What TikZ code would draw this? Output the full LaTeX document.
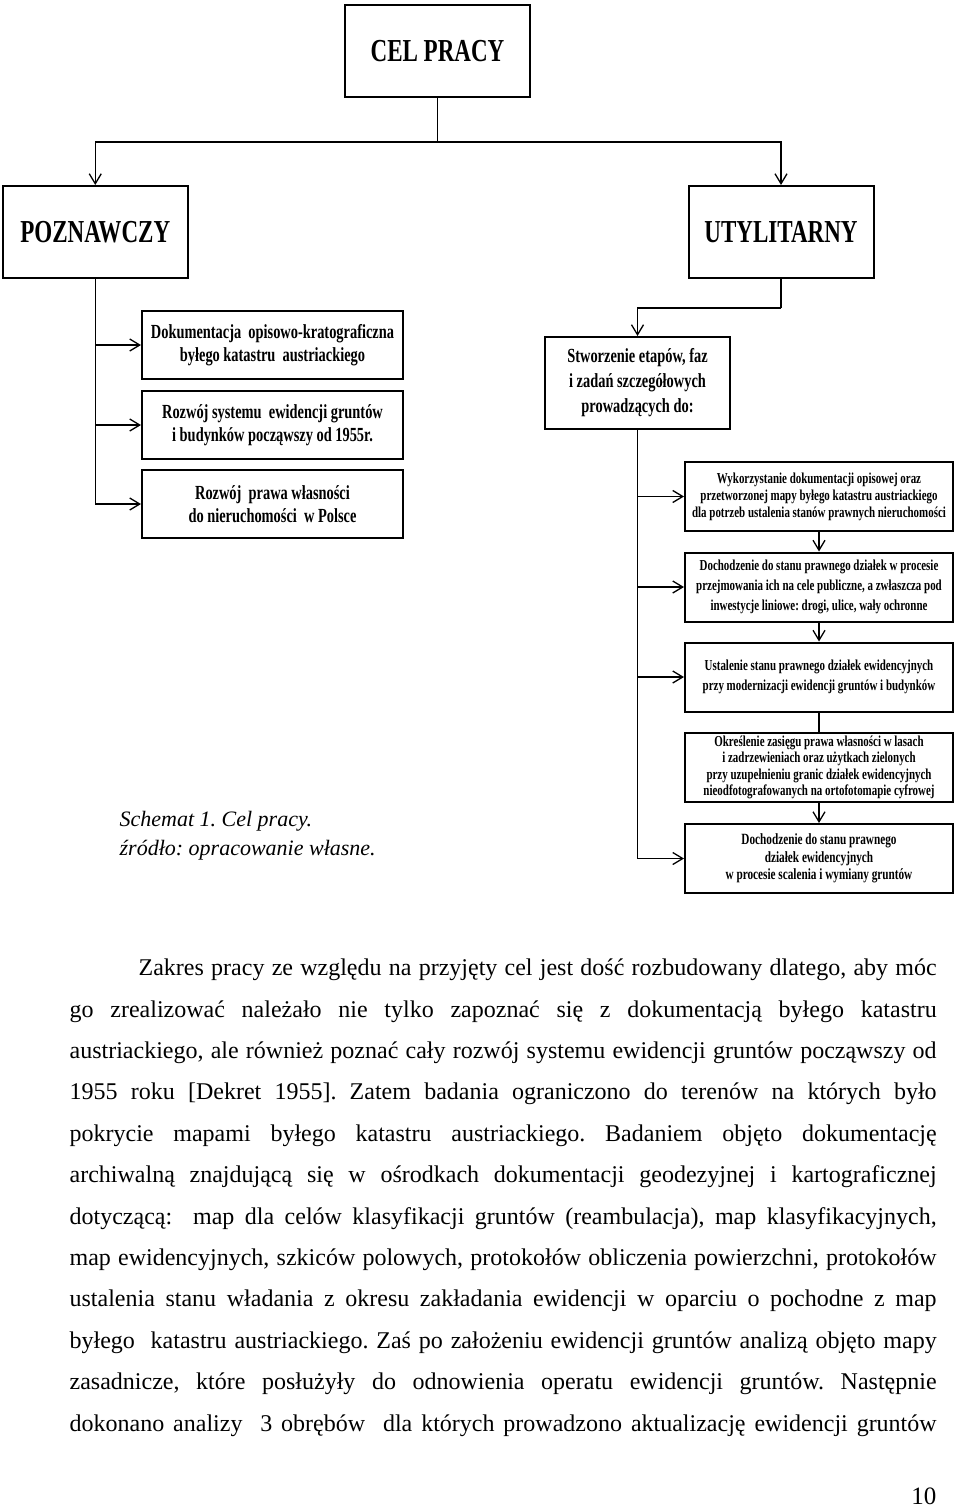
\documentclass[tikz,border=0pt]{standalone}
\usepackage{fontspec}
\setmainfont{Liberation Serif}
\newfontfamily\boxfont[FakeStretch=0.72]{Liberation Serif}
\usetikzlibrary{arrows.meta}
\frenchspacing

\begin{document}
\begin{tikzpicture}[x=0.5pt, y=-0.5pt,
                    line width=0.65pt,
                    >={Straight Barb[length=5pt,width=6pt]}]
    \tikzstyle{box}=[draw, line width=1pt, inner sep=1pt, align=center]
    \tikzstyle{head}=[box, minimum width=92.5pt, minimum height=46pt, font=\boxfont\bfseries\fontsize{16}{19}\selectfont]
    \tikzstyle{stage}=[head, font=\boxfont\bfseries\fontsize{10}{12.5}\selectfont]
    \tikzstyle{topic}=[box, minimum width=130.5pt, minimum height=34pt, font=\boxfont\bfseries\fontsize{10}{11.65}\selectfont]
    \tikzstyle{task}=[box, minimum width=134pt, minimum height=34.5pt, font=\boxfont\bfseries\fontsize{7.6}{8.5}\selectfont]
    \tikzstyle{taskloose}=[task, font=\boxfont\bfseries\fontsize{7.6}{10}\selectfont]
    \tikzstyle{caption}=[inner sep=0pt, font=\itshape\fontsize{11}{13}\selectfont]

    \useasboundingbox (0,0) rectangle (960,1509);

    % schemat
    \node[head] (cel) at (437.5,51.5) {CEL PRACY};
    \node[head] (poz) at (95.25,232) {POZNAWCZY};
    \node[head] (uty) at (781,232) {UTYLITARNY};

    \node[topic] (dok) at (272.5,345) {Dokumentacja\ \ opisowo-kratograficzna\\ byłego katastru\ \ austriackiego};
    \node[topic] (rozw) at (272.5,425) {Rozwój systemu\ \ ewidencji gruntów\\ i budynków począwszy od 1955r.};
    \node[topic] (prawo) at (272.5,504) {Rozwój\ \ prawa własności\\ do nieruchomości\ \ w Polsce};

    \node[stage] (stw) at (637.5,383) {Stworzenie etapów, faz\\ i zadań szczegółowych\\ prowadzących do:};

    \node[task] (wyk) at (819,496.5) {Wykorzystanie dokumentacji opisowej oraz\\ przetworzonej mapy byłego katastru austriackiego\\ dla potrzeb ustalenia stanów prawnych nieruchomości};
    \node[taskloose] (doch1) at (819,587) {Dochodzenie do stanu prawnego działek w procesie\\ przejmowania ich na cele publiczne, a zwłaszcza pod\\ inwestycje liniowe: drogi, ulice, wały ochronne};
    \node[taskloose] (ust) at (819,677) {Ustalenie stanu prawnego działek ewidencyjnych\\ przy modernizacji ewidencji gruntów i budynków};
    \node[task, font=\boxfont\bfseries\fontsize{7.6}{8.15}\selectfont] (okr) at (819,767.5) {Określenie zasięgu prawa własności w lasach\\ i zadrzewieniach oraz użytkach zielonych\\ przy uzupełnieniu granic działek ewidencyjnych\\ nieodfotografowanych na ortofotomapie cyfrowej};
    \node[task, font=\boxfont\bfseries\fontsize{7.8}{8.75}\selectfont] (doch2) at (819,858.5) {Dochodzenie do stanu prawnego\\ działek ewidencyjnych\\ w procesie scalenia i wymiany gruntów};

    \coordinate (split) at (437.5,142);
    \draw (cel) -- (split);
    \draw[->] (split) -| (poz);
    \draw[->] (split) -| (uty);

    \draw[->] (poz) |- (dok);
    \draw[->] (poz) |- (rozw);
    \draw[->] (poz) |- (prawo);

    \coordinate (bend) at (781,308);
    \draw (uty) -- (bend);
    \draw[->] (bend) -| (stw);

    \draw[->] (stw) |- (wyk);
    \draw[->] (stw) |- (doch1);
    \draw[->] (stw) |- (ust);
    \draw[->] (stw) |- (doch2);

    \draw[->] (wyk) -- (doch1);
    \draw[->] (doch1) -- (ust);
    \draw (ust) -- (okr);
    \draw[->] (okr) -- (doch2);

    % podpis i tekst
    \node[caption, anchor=base west] (schemat) at (119,826) {Schemat 1. Cel pracy.};
    \node[caption, anchor=base west] (zrodlo) at (119,855) {źródło: opracowanie własne.};

    \node[anchor=north west, inner sep=0pt, text width=433.5pt, align=justify,
          font=\fontsize{12}{20.7}\selectfont] (tekst) at (69,946)
        {\noindent\rule{0pt}{14.5pt}\hspace*{34.5pt}Zakres pracy ze względu na przyjęty cel jest dość rozbudowany dlatego, aby móc\linebreak
         go zrealizować należało nie tylko zapoznać się z dokumentacją byłego katastru\linebreak
         austriackiego, ale również poznać cały rozwój systemu ewidencji gruntów począwszy od\linebreak
         1955 roku [Dekret 1955]. Zatem badania ograniczono do terenów na których było\linebreak
         pokrycie mapami byłego katastru austriackiego. Badaniem objęto dokumentację\linebreak
         archiwalną znajdującą się w ośrodkach dokumentacji geodezyjnej i kartograficznej\linebreak
         dotyczącą:\ \ map dla celów klasyfikacji gruntów (reambulacja), map klasyfikacyjnych,\linebreak
         map ewidencyjnych, szkiców polowych, protokołów obliczenia powierzchni, protokołów\linebreak
         ustalenia stanu władania z okresu zakładania ewidencji w oparciu o pochodne z map\linebreak
         byłego\ \ katastru austriackiego. Zaś po założeniu ewidencji gruntów analizą objęto mapy\linebreak
         zasadnicze, które posłużyły do odnowienia operatu ewidencji gruntów. Następnie\linebreak
         dokonano analizy\ \ 3 obrębów\ \ dla których prowadzono aktualizację ewidencji gruntów\parfillskip=0pt\par};

    \node[anchor=base east, inner sep=0pt, font=\fontsize{12.5}{15}\selectfont] (strona) at (937,1504) {10};
\end{tikzpicture}
\end{document}
